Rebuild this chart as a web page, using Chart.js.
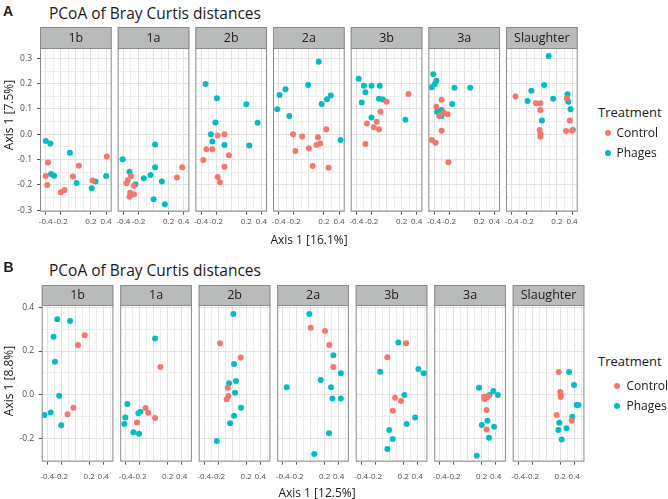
<!DOCTYPE html>
<html><head><meta charset="utf-8">
<script src="https://cdn.jsdelivr.net/npm/chart.js@4/dist/chart.umd.min.js"></script>
<style>
body{margin:0;background:#fff;width:668px;height:499px;overflow:hidden;position:relative;font-family:'Open Sans',sans-serif;}
canvas{position:absolute;}
.t{position:absolute;white-space:nowrap;color:#1a1a1a;line-height:1;}
.dot{position:absolute;width:6px;height:6px;border-radius:50%;}
</style></head><body>
<script>
// ---------- categories / labels ----------
const facets = ['1b','1a','2b','2a','3b','3a','Slaughter'];
const treatments = ['Control','Phages'];
const xTickValues = [-0.4,-0.2,0.2,0.4];
const xTickLabels = ['-0.4','-0.2','0.2','0.4'];
const yTickValuesA = [-0.3,-0.2,-0.1,0.0,0.1,0.2,0.3];
const yTickLabelsA = ['-0.3','-0.2','-0.1','0.0','0.1','0.2','0.3'];
const yTickValuesB = [-0.2,0.0,0.2,0.4];
const yTickLabelsB = ['-0.2','0.0','0.2','0.4'];

// ---------- panel A data [x, y] ----------
const A_1b_Control = [[0.41,-0.088],[-0.37,-0.112],[0.04,-0.124],[-0.40,-0.165],[-0.04,-0.167],[-0.38,-0.200],[-0.20,-0.229],[-0.15,-0.220],[0.22,-0.183]];
const A_1b_Phages  = [[-0.40,-0.027],[-0.34,-0.036],[-0.08,-0.073],[-0.33,-0.157],[-0.29,-0.164],[0.01,-0.193],[0.21,-0.213],[0.26,-0.187],[0.40,-0.165]];
const A_1a_Control = [[0.38,-0.130],[0.31,-0.171],[-0.30,-0.165],[-0.34,-0.181],[-0.36,-0.194],[-0.26,-0.203],[-0.31,-0.231],[-0.32,-0.247],[-0.26,-0.237]];
const A_1a_Phages  = [[-0.41,-0.099],[0.02,-0.040],[-0.32,-0.148],[-0.24,-0.198],[-0.13,-0.174],[-0.04,-0.161],[0.02,-0.130],[0.11,-0.187],[0.00,-0.257],[0.15,-0.277]];
const A_2b_Control = [[-0.18,-0.005],[-0.09,0.000],[-0.33,-0.059],[-0.25,-0.059],[-0.37,-0.102],[-0.03,-0.083],[-0.09,-0.128],[-0.18,-0.169],[-0.15,-0.190]];
const A_2b_Phages  = [[-0.34,0.199],[-0.19,0.142],[0.20,0.119],[0.35,0.046],[-0.21,0.047],[-0.27,0.000],[-0.25,-0.029],[-0.09,-0.042],[0.24,-0.044]];
const A_2a_Control = [[0.23,0.020],[-0.21,0.000],[-0.09,-0.009],[0.12,-0.012],[0.15,-0.036],[0.10,-0.042],[0.00,-0.055],[-0.18,-0.066],[0.05,-0.125],[0.26,-0.132]];
const A_2a_Phages  = [[0.13,0.287],[-0.01,0.195],[-0.31,0.178],[-0.39,0.155],[-0.42,0.099],[-0.26,0.072],[0.29,0.153],[0.24,0.138],[0.17,0.120],[0.42,-0.023]];
const A_3b_Control = [[0.00,0.129],[-0.08,0.089],[-0.13,0.050],[-0.26,0.043],[-0.17,0.028],[-0.10,0.020],[-0.28,-0.038],[0.29,0.159]];
const A_3b_Phages  = [[-0.37,0.219],[-0.30,0.192],[-0.20,0.192],[-0.09,0.192],[-0.28,0.166],[-0.33,0.126],[-0.10,0.140],[-0.05,0.137],[-0.20,0.066],[0.25,0.057]];
const A_3a_Control = [[-0.30,0.136],[-0.37,0.109],[-0.27,0.085],[-0.22,0.079],[-0.33,0.072],[-0.30,0.014],[-0.43,-0.023],[-0.38,-0.033],[-0.21,-0.111]];
const A_3a_Phages  = [[-0.41,0.237],[-0.37,0.212],[-0.39,0.199],[-0.43,0.186],[-0.13,0.184],[0.08,0.184],[-0.16,0.120],[-0.36,0.089],[-0.30,0.096],[-0.30,0.072]];
const A_Sl_Control = [[-0.35,0.149],[-0.08,0.123],[-0.02,0.123],[-0.02,0.096],[0.33,0.142],[0.37,0.054],[-0.03,0.017],[-0.02,0.001],[-0.02,-0.010],[0.32,0.013],[0.40,0.014]];
const A_Sl_Phages  = [[0.09,0.309],[0.03,0.195],[-0.14,0.172],[-0.19,0.132],[0.15,0.140],[0.34,0.158],[0.35,0.129],[0.38,0.099],[0.00,0.054],[0.41,0.017]];

// ---------- panel B data [x, y] ----------
const B_1b_Control = [[0.136,0.272],[0.04,0.228],[-0.027,-0.060],[-0.11,-0.090]];
const B_1b_Phages  = [[-0.256,0.346],[-0.074,0.338],[-0.31,0.266],[-0.29,0.151],[-0.23,-0.005],[-0.44,-0.093],[-0.35,-0.081],[-0.20,-0.140]];
const B_1a_Control = [[0.094,0.127],[-0.117,-0.061],[-0.08,-0.083],[-0.24,-0.127],[0.019,-0.107]];
const B_1a_Phages  = [[0.019,0.257],[-0.377,-0.043],[-0.406,-0.104],[-0.42,-0.134],[-0.22,-0.085],[-0.19,-0.078],[-0.29,-0.172],[-0.21,-0.179]];
const B_2b_Control = [[-0.174,0.236],[0.121,0.171],[-0.064,0.032],[-0.056,-0.006],[-0.079,-0.021]];
const B_2b_Phages  = [[0.016,0.370],[0.026,0.141],[0.054,0.063],[-0.046,0.052],[0.04,0.009],[0.126,-0.060],[0.026,-0.096],[-0.031,-0.131],[-0.22,-0.212]];
const B_2a_Control = [[0.00,0.307],[0.204,0.292],[0.266,0.228],[0.323,0.127]];
const B_2a_Phages  = [[-0.02,0.370],[0.323,0.181],[0.43,0.098],[0.143,0.067],[-0.343,0.034],[0.29,0.034],[0.31,-0.017],[0.43,-0.017],[0.26,-0.177],[0.05,-0.272]];
const B_3b_Control = [[0.24,0.236],[-0.027,0.172],[0.083,-0.014],[0.169,-0.029],[0.05,-0.073]];
const B_3b_Phages  = [[0.13,0.239],[0.416,0.118],[0.49,0.098],[-0.13,0.105],[0.216,-0.001],[0.37,-0.105],[0.25,-0.134],[0.00,-0.162],[0.05,-0.203],[-0.027,-0.249]];
const B_3a_Control = [[0.233,-0.009],[0.27,-0.012],[0.29,-0.006],[0.24,-0.020],[0.27,-0.070],[0.27,-0.159]];
const B_3a_Phages  = [[0.161,0.032],[0.366,0.017],[0.43,-0.001],[0.31,-0.001],[0.28,-0.119],[0.20,-0.139],[0.376,-0.147],[0.304,-0.197],[0.129,-0.280]];
const B_Sl_Control = [[0.178,0.104],[0.20,0.012],[0.207,0.000],[0.207,-0.010],[0.15,-0.093],[0.364,-0.119]];
const B_Sl_Phages  = [[0.326,0.104],[0.397,0.044],[0.436,-0.047],[0.46,-0.047],[0.373,-0.101],[0.187,-0.128],[0.29,-0.154],[0.173,-0.162],[0.22,-0.205]];

// ---------- assemble ----------
const dataA = [
  [A_1b_Control,A_1b_Phages],[A_1a_Control,A_1a_Phages],[A_2b_Control,A_2b_Phages],[A_2a_Control,A_2a_Phages],
  [A_3b_Control,A_3b_Phages],[A_3a_Control,A_3a_Phages],[A_Sl_Control,A_Sl_Phages]];
const dataB = [
  [B_1b_Control,B_1b_Phages],[B_1a_Control,B_1a_Phages],[B_2b_Control,B_2b_Phages],[B_2a_Control,B_2a_Phages],
  [B_3b_Control,B_3b_Phages],[B_3a_Control,B_3a_Phages],[B_Sl_Control,B_Sl_Phages]];

const colors = {Control:'#F8766D', Phages:'#00BFC4'};
const FONT = "'Open Sans', sans-serif";

const rows = [
  {data:dataA, stripTop:27, panelTop:48, panelBottom:211.7, left0:40, step:77.67, width:71.7,
   xMin:-0.476, xMax:0.475, yMin:-0.306, yMax:0.341, yGridStep:0.05,
   yTickValues:yTickValuesA, yTickLabels:yTickLabelsA, xLabelPad:2.3, yLabelPad:5, xH:20},
  {data:dataB, stripTop:285, panelTop:305, panelBottom:461.7, left0:41.7, step:78.5, width:71.7,
   xMin:-0.479, xMax:0.545, yMin:-0.307, yMax:0.411, yGridStep:0.1,
   yTickValues:yTickValuesB, yTickLabels:yTickLabelsB, xLabelPad:7.5, yLabelPad:4.5, xH:24}
];

function gridVals(min, max, step){
  const out=[]; for(let k=Math.ceil(min/step-1e-9); k*step<=max+1e-9; k++) out.push(Math.round(k*step*1e6)/1e6);
  return out;
}
function findIdx(arr, v){ return arr.findIndex(t=>Math.abs(t-v)<1e-6); }
function isMajor(v, step){ const r=v/step; return Math.abs(r-Math.round(r))<1e-6; }

const panelPlugin = {
  id:'panel',
  beforeDraw(chart){
    const {ctx, chartArea:a} = chart;
    ctx.save();
    ctx.fillStyle='#ffffff';
    ctx.fillRect(a.left,a.top,a.width,a.height);
    const st = chart.titleBlock ? chart.titleBlock.top : 0;
    ctx.fillStyle='#b9bbba';
    ctx.fillRect(a.left, st, a.width, a.top-st);
    ctx.strokeStyle='#8a8a8a'; ctx.lineWidth=1;
    ctx.strokeRect(a.left+0.5, st+0.5, a.width-1, a.top-st);
    ctx.restore();
  },
  afterDatasetsDraw(chart){
    const {ctx, chartArea:a} = chart;
    ctx.save();
    ctx.strokeStyle='#8a8a8a'; ctx.lineWidth=1;
    ctx.strokeRect(a.left+0.5, a.top+0.5, a.width-1, a.height-1);
    ctx.restore();
  }
};

rows.forEach((row)=>{
  const xGrid = gridVals(row.xMin, row.xMax, 0.1);
  const yGrid = gridVals(row.yMin, row.yMax, row.yGridStep);
  const yMajorStep = row.yTickValues[1]-row.yTickValues[0];
  facets.forEach((name,i)=>{
    const L = row.left0 + i*row.step;
    const yW0 = i===0 ? 40 : 10;
    const cl = Math.floor(L - yW0);
    const yWidth = L - cl;
    const cw = Math.ceil(yWidth + row.width + 12);
    const rightPad = cw - yWidth - row.width;
    const stripH = row.panelTop - row.stripTop;
    const panelH = row.panelBottom - row.panelTop;
    const ch = Math.ceil(stripH + panelH + row.xH);
    const bottomPad = ch - stripH - panelH - row.xH;
    const cv = document.createElement('canvas');
    cv.width = cw; cv.height = ch;
    cv.style.left = cl+'px'; cv.style.top = row.stripTop+'px';
    cv.style.width = cw+'px'; cv.style.height = ch+'px';
    document.body.appendChild(cv);
    const datasets = treatments.map((tr,k)=>({
      label: tr,
      data: row.data[i][k].map(p=>({x:p[0], y:p[1]})),
      pointRadius: 3, pointHoverRadius: 3, pointBorderWidth: 0,
      pointBackgroundColor: colors[tr], backgroundColor: colors[tr], borderColor: colors[tr],
      showLine:false, clip:0
    }));
    new Chart(cv, {
      type:'scatter',
      data:{datasets},
      plugins:[panelPlugin],
      options:{
        responsive:false, animation:false, devicePixelRatio:1, events:[],
        layout:{autoPadding:false, padding:{left:0, right:rightPad, top:0, bottom:bottomPad}},
        plugins:{
          legend:{display:false}, tooltip:{enabled:false},
          title:{display:true, text:name, fullSize:false, color:'#1a1a1a',
                 font:{family:FONT, size:12.5, weight:'normal', lineHeight:(stripH-3)/12.5}, padding:{top:2, bottom:1}}
        },
        scales:{
          x:{type:'linear', min:row.xMin, max:row.xMax,
             afterBuildTicks:(s)=>{ s.ticks = xGrid.map(v=>({value:v})); },
             afterFit:(s)=>{ s.height = row.xH; },
             ticks:{autoSkip:false, maxRotation:0, minRotation:0, padding:row.xLabelPad,
                    color:'#4d4d4d', font:{family:FONT, size:8},
                    callback:(v)=>{ const k=findIdx(xTickValues, v); return k>=0 ? xTickLabels[k] : ''; }},
             grid:{drawTicks:true, tickLength:3,
                   color:(c)=> (c.tick && isMajor(c.tick.value,0.2)) ? '#e2e2e2' : '#ededed',
                   tickColor:(c)=> (c.tick && findIdx(xTickValues, c.tick.value)>=0) ? '#555' : 'rgba(0,0,0,0)',
                   lineWidth:1, tickWidth:1},
             border:{display:false}},
          y:{type:'linear', min:row.yMin, max:row.yMax,
             afterBuildTicks:(s)=>{ s.ticks = yGrid.map(v=>({value:v})); },
             afterFit:(s)=>{ s.width = yWidth; },
             ticks:{display:i===0, autoSkip:false, padding:row.yLabelPad,
                    color:'#4d4d4d', font:{family:FONT, size:8.5},
                    callback:(v)=>{ const k=findIdx(row.yTickValues, v); return k>=0 ? row.yTickLabels[k] : ''; }},
             grid:{drawTicks:i===0, tickLength:3,
                   color:(c)=> (c.tick && isMajor(c.tick.value,yMajorStep)) ? '#e2e2e2' : '#ededed',
                   tickColor:(c)=> (c.tick && findIdx(row.yTickValues, c.tick.value)>=0) ? '#555' : 'rgba(0,0,0,0)',
                   lineWidth:1, tickWidth:1},
             border:{display:false}}
        }
      }
    });
  });
});

// ---------- text overlays ----------
function txt(s, x, y, opts){
  const d=document.createElement('div'); d.className='t'; d.textContent=s;
  d.style.fontSize=(opts.size||12)+'px';
  if(opts.family) d.style.fontFamily=opts.family;
  if(opts.weight) d.style.fontWeight=opts.weight;
  d.style.left=x+'px'; d.style.top=y+'px';
  let tf = 'translateY(-50%)';
  if(opts.center) tf = 'translate(-50%,-50%)';
  if(opts.rotate) tf = 'translate(-50%,-50%) rotate(-90deg)';
  d.style.transform=tf;
  document.body.appendChild(d);
}
function dot(x,y,c){
  const d=document.createElement('div'); d.className='dot';
  d.style.left=(x-3)+'px'; d.style.top=(y-3)+'px'; d.style.background=c;
  document.body.appendChild(d);
}
const titleText = 'PCoA of Bray Curtis distances';
txt('A', 3, 11, {size:14, weight:'bold', family:"'Liberation Sans', Arial, sans-serif"});
txt(titleText, 49, 13.5, {size:15.5});
txt('Axis 1 [16.1%]', 309, 240, {size:12, center:true});
txt('Axis 1 [7.5%]', 8.5, 115, {size:12, rotate:true});
txt('Treatment', 598, 112, {size:13});
dot(608.3,132.5,colors.Control); txt('Control', 616.5, 132.5, {size:12});
dot(608.3,152.5,colors.Phages);  txt('Phages', 616.5, 152.5, {size:12});

txt('B', 3.5, 267, {size:14, weight:'bold', family:"'Liberation Sans', Arial, sans-serif"});
txt(titleText, 49, 271, {size:15.5});
txt('Axis 1 [12.5%]', 317, 493, {size:12, center:true});
txt('Axis 1 [8.8%]', 8.5, 381, {size:12, rotate:true});
txt('Treatment', 598, 361, {size:13});
dot(616.7,386,colors.Control); txt('Control', 626.5, 386, {size:12});
dot(616.7,406,colors.Phages);  txt('Phages', 626.5, 406, {size:12});
</script>
</body></html>
